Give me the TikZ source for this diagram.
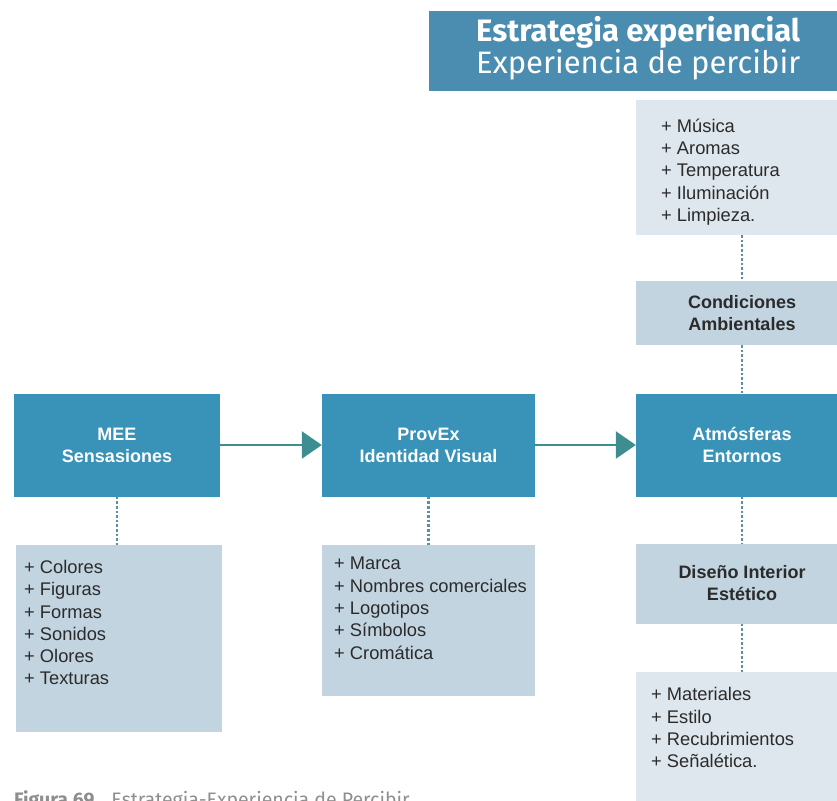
\documentclass[tikz,border=0pt]{standalone}
\usepackage{fontspec}
\setmainfont{Liberation Sans}
\newfontfamily\fira{Fira Sans}
\usetikzlibrary{arrows.meta}
\definecolor{titlebg}{HTML}{4A8DB1}
\definecolor{darkbox}{HTML}{3993B8}
\definecolor{arrowcol}{HTML}{3D8E91}
\definecolor{midbox}{HTML}{C1D4E0}
\definecolor{palebox}{HTML}{DEE7ED}
\definecolor{dotcol}{HTML}{5B8FA3}
\definecolor{listtext}{HTML}{2B2B2B}
\definecolor{capgray}{HTML}{8E8E8E}
\tikzset{
  mainbox/.style={fill=darkbox, draw=none, inner sep=0, align=center, text=white,
    font=\bfseries\fontsize{18}{22}\selectfont},
  subbox/.style={fill=midbox, draw=none, inner sep=0, align=center, text=listtext,
    font=\bfseries\fontsize{18}{22}\selectfont},
  listbox/.style={draw=none, inner sep=0},
  listtxt/.style={anchor=north west, inner sep=0, align=left, text=listtext,
    font=\fontsize{18.3}{22.3}\selectfont},
  flowarrow/.style={draw=arrowcol, line width=2.6pt, -{Triangle[length=20pt,width=27pt]}},
  dotline/.style={draw=dotcol, line width=2.4pt, dash pattern=on 2.6pt off 2pt}
}
\begin{document}
\begin{tikzpicture}[x=1pt,y=-1pt]
\useasboundingbox (0,0) rectangle (837,800);
% title
\node[fill=titlebg, minimum width=418pt, minimum height=80pt, inner sep=0, anchor=north west,
  text=white, align=center] (title) at (429,11) {};
\node[text=white, align=center, inner sep=0] (titletext) at ([yshift=3pt]title.center)
  {\fira\fontsize{31}{35}\selectfont\bfseries Estrategia experiencial\\
   \fira\fontsize{31}{35}\selectfont Experiencia de percibir};
% main boxes
\node[mainbox, minimum width=206pt, minimum height=103pt] (mee) at (117,445) {MEE\\Sensasiones};
\node[mainbox, minimum width=213pt, minimum height=103pt] (provex) at (428.5,445) {ProvEx\\Identidad Visual};
\node[mainbox, minimum width=212pt, minimum height=103pt] (atmos) at (742,445) {Atmósferas\\Entornos};
% arrows
\draw[flowarrow] (mee.east) -- (provex.west);
\draw[flowarrow] (provex.east) -- (atmos.west);
% right column
\node[listbox, fill=palebox, minimum width=212pt, minimum height=135pt] (toplist) at (742,167.5) {};
\node[listtxt] (toptext) at (661,118.5) {+ Música\\+ Aromas\\+ Temperatura\\+ Iluminación\\+ Limpieza.};
\node[subbox, minimum width=212pt, minimum height=64pt] (cond) at (742,313) {Condiciones\\Ambientales};
\node[subbox, minimum width=212pt, minimum height=80pt] (disen) at (742,583.5) {Diseño Interior\\Estético};
\node[listbox, fill=palebox, minimum width=212pt, minimum height=140pt] (botlist) at (742,742) {};
\node[listtxt] (bottext) at (651,687.5) {+ Materiales\\+ Estilo\\+ Recubrimientos\\+ Señalética.};
\draw[dotline] (toplist.south) -- (cond.north);
\draw[dotline] (cond.south) -- (atmos.north);
\draw[dotline] (atmos.south) -- (disen.north);
\draw[dotline] (disen.south) -- (botlist.north);
% left lists
\node[listbox, fill=midbox, minimum width=206pt, minimum height=187pt, anchor=north west] (meelist) at (16,545) {};
\node[listtxt] (meetext) at (24,560) {+ Colores\\+ Figuras\\+ Formas\\+ Sonidos\\+ Olores\\+ Texturas};
\node[listbox, fill=midbox, minimum width=213pt, minimum height=151pt, anchor=north west] (provlist) at (322,545) {};
\node[listtxt] (provtext) at (334,557) {+ Marca\\+ Nombres comerciales\\+ Logotipos\\+ Símbolos\\+ Cromática};
\draw[dotline] (mee.south) -- (mee.south |- meelist.north);
\draw[dotline] (provex.south) -- (provex.south |- provlist.north);
% caption (cut by page edge, as in the reference)
\node[anchor=base west, inner sep=0, text=capgray, font=\fira\fontsize{19.5}{22}\selectfont] (caption) at (14,806)
  {{\bfseries Figura 69}\hspace{17pt}Estrategia-Experiencia de Percibir};
\end{tikzpicture}
\end{document}
